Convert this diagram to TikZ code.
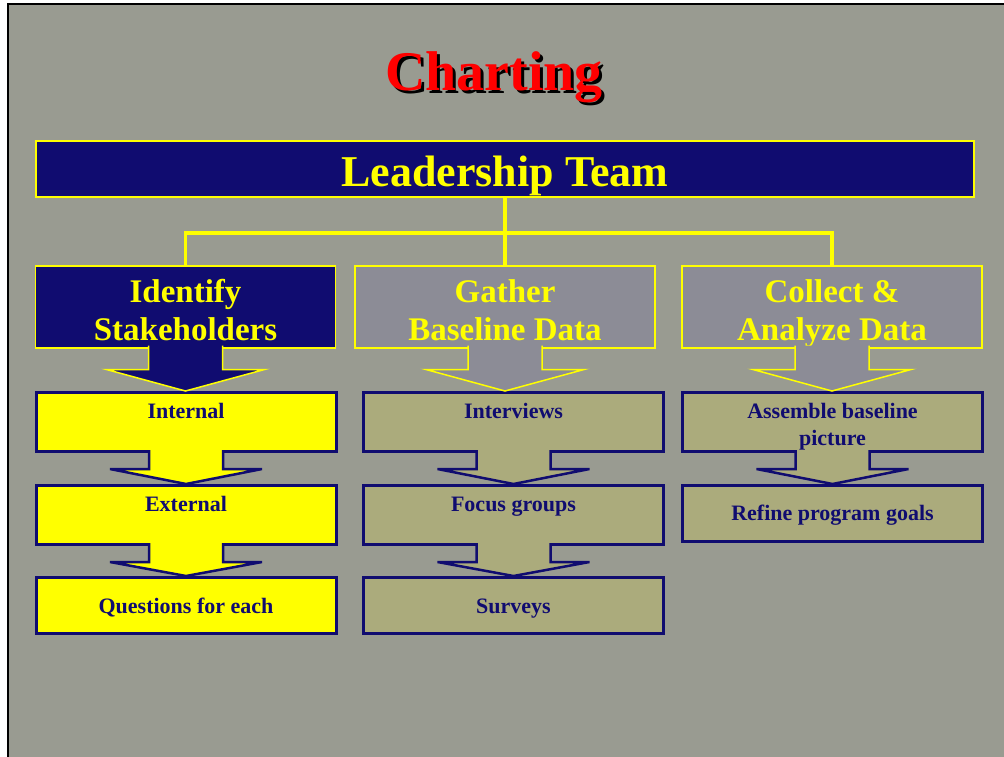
\documentclass[tikz,border=0pt]{standalone}
\usepackage{fontspec}
\setmainfont{Liberation Serif}
\usetikzlibrary{calc}

\definecolor{slidegray}{HTML}{999B91}
\definecolor{navy}{HTML}{100C70}
\definecolor{dotblue}{HTML}{8C8C96}
\definecolor{dotyellow}{HTML}{ABAB7C}
\definecolor{lemon}{RGB}{255,255,0}
\definecolor{titlered}{RGB}{255,0,0}

\tikzset{
  titletext/.style={font=\fontsize{56}{60}\selectfont\bfseries, inner sep=0pt, anchor=base},
  headbox/.style={draw=lemon, line width=2pt, fill=navy, text=lemon,
    font=\fontsize{44}{50}\selectfont\bfseries, inner sep=0pt, anchor=north},
  stagebox/.style={draw=lemon, line width=1.5pt, text=lemon,
    font=\fontsize{33}{38}\selectfont\bfseries, inner sep=0pt, anchor=north,
    minimum width=300pt, text height=37pt, text depth=45pt},
  stepbox/.style={draw=navy, line width=3pt, text=navy,
    font=\fontsize{22}{27}\selectfont\bfseries, inner sep=0pt, anchor=north,
    minimum width=300pt},
  link/.style={draw=lemon, line width=3.5pt},
  stagearrow/.style={draw=lemon, line width=1.5pt},
  steparrow/.style={draw=navy, line width=2.5pt}
}

% two centred lines, baseline on the first one
\newcommand{\twoline}[2]{\begin{tabular}[t]{@{}c@{}}#1\\#2\end{tabular}}

% text with a dark drop shadow
\newcommand{\shadowed}[1]{\makebox[0pt][l]{\hspace{3pt}\raisebox{-3pt}{\color{black}#1}}#1}

% block arrow from the bottom of #1 down to the top of #2
\newcommand{\blockarrow}[5]{%
  \draw[#5] ($(#1.south)+(-37,-3)$) -- ($(#1.south)+(-37,#3)$)
    -- ($(#1.south)+(-#4,#3)$) -- (#1.south |- #2.north)
    -- ($(#1.south)+(#4,#3)$) -- ($(#1.south)+(37,#3)$)
    -- ($(#1.south)+(37,-3)$);
}

\begin{document}
\begin{tikzpicture}[x=1pt, y=-1pt]
  % slide
  \useasboundingbox (0,0) rectangle (1004,757);
  \fill[white] (0,0) rectangle (1004,757);
  \fill[slidegray] (8,4) rectangle (1004,757);
  \draw[line width=1.2pt] (8,757) -- (8,4) -- (1004,4);

  % title
  \node[titletext, text=titlered] (title) at (494,91) {\shadowed{Charting}};

  % leadership team
  \node[headbox, minimum width=938pt, text height=45pt, text depth=11pt] (lead) at (505,140) {Leadership Team};

  % stages
  \node[stagebox, fill=navy] (ident) at (185.5,265) {\twoline{Identify}{Stakeholders}};
  \node[stagebox, fill=dotblue] (gather) at (505,265) {\twoline{Gather}{Baseline Data}};
  \node[stagebox, fill=dotblue] (collect) at (832,265) {\twoline{Collect \&}{Analyze Data}};
  \coordinate (fork) at (505,233);
  \draw[link] (lead) -- (gather);
  \draw[link] (ident) |- (fork) -| (collect);

  % steps
  \node[stepbox, fill=lemon, text height=25.5pt, text depth=33.5pt] (internal) at (186,391) {Internal};
  \node[stepbox, fill=lemon, text height=25.5pt, text depth=33.5pt] (external) at (186,484) {External};
  \node[stepbox, fill=lemon, text height=35.5pt, text depth=20.5pt] (questions) at (186,576) {Questions for each};
  \node[stepbox, fill=dotyellow, text height=25.5pt, text depth=33.5pt] (interviews) at (513.5,391) {Interviews};
  \node[stepbox, fill=dotyellow, text height=25.5pt, text depth=33.5pt] (focus) at (513.5,484) {Focus groups};
  \node[stepbox, fill=dotyellow, text height=35.5pt, text depth=20.5pt] (surveys) at (513.5,576) {Surveys};
  \node[stepbox, fill=dotyellow, text height=25.5pt, text depth=33.5pt] (assemble) at (832.5,391) {\twoline{Assemble baseline}{picture}};
  \node[stepbox, fill=dotyellow, text height=34.5pt, text depth=21.5pt] (refine) at (832.5,484) {Refine program goals};

  % arrows
  \blockarrow{ident}{internal}{21}{79}{stagearrow, fill=navy}
  \blockarrow{gather}{interviews}{21}{79}{stagearrow, fill=dotblue}
  \blockarrow{collect}{assemble}{21}{79}{stagearrow, fill=dotblue}
  \blockarrow{internal}{external}{16}{76}{steparrow, fill=lemon}
  \blockarrow{external}{questions}{16}{76}{steparrow, fill=lemon}
  \blockarrow{interviews}{focus}{16}{76}{steparrow, fill=dotyellow}
  \blockarrow{focus}{surveys}{16}{76}{steparrow, fill=dotyellow}
  \blockarrow{assemble}{refine}{16}{76}{steparrow, fill=dotyellow}
\end{tikzpicture}
\end{document}
